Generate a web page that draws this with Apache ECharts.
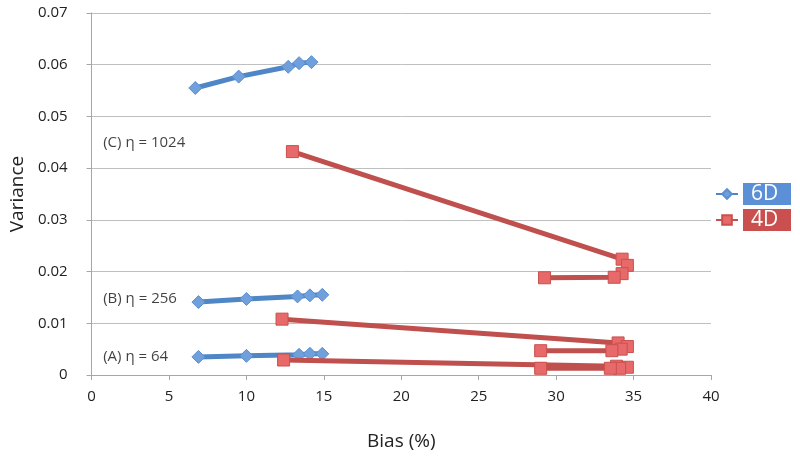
<!DOCTYPE html>
<html>
<head>
<meta charset="utf-8">
<script src="https://cdn.jsdelivr.net/npm/echarts@6/dist/echarts.min.js"></script>
<style>html,body{margin:0;padding:0;background:#fff}#c{width:800px;height:462px}</style>
</head>
<body>
<div id="c"></div>
<script>
// 6D series (blue), three groups
var blueC_x = [6.7, 9.5, 12.7, 13.4, 14.2];
var blueC_y = [0.0555, 0.0577, 0.0596, 0.0603, 0.0605];
var blueB_x = [6.9, 10.0, 13.3, 14.1, 14.9];
var blueB_y = [0.0141, 0.0147, 0.0152, 0.0154, 0.0155];
var blueA_x = [6.9, 10.0, 13.4, 14.1, 14.9];
var blueA_y = [0.0035, 0.0037, 0.0039, 0.0041, 0.0041];
// 4D series (red), three groups
var redC_x = [12.97, 34.26, 34.6, 34.26, 33.75, 29.25];
var redC_y = [0.0432, 0.0224, 0.0212, 0.0196, 0.0189, 0.0188];
var redB_x = [12.3, 34.0, 34.6, 34.2, 33.6, 29.0];
var redB_y = [0.0108, 0.0062, 0.0055, 0.0050, 0.0047, 0.0047];
var redA_x = [12.4, 33.9, 34.6, 34.1, 33.5, 29.0];
var redA_y = [0.0029, 0.0017, 0.0015, 0.0013, 0.0013, 0.0013];
// annotations
var annoText = ['(C) η = 1024', '(B) η = 256', '(A) η = 64'];
var annoX = [0.75, 0.75, 0.75];
var annoY = [0.0449, 0.0147, 0.0035];
var xTicks = [0, 5, 10, 15, 20, 25, 30, 35, 40];
var yTicks = [0, 0.01, 0.02, 0.03, 0.04, 0.05, 0.06, 0.07];

function pairs(xs, ys){ return xs.map(function(x,i){ return [x, ys[i]]; }); }

var BLUE_LINE = '#4f86c6', BLUE_MK = '#6fa0dc';
var RED_LINE = '#c0504d', RED_MK = '#e8696a';
var FONT = 'Open Sans';

function blueSeries(xs, ys){
  return { name:'6D', type:'line', data:pairs(xs,ys), symbol:'diamond', symbolSize:13,
    lineStyle:{color:BLUE_LINE, width:5}, itemStyle:{color:BLUE_MK, borderColor:'#5a8fd0', borderWidth:1},
    emphasis:{disabled:true}, z:3 };
}
function redSeries(xs, ys){
  return { name:'4D', type:'line', data:pairs(xs,ys), symbol:'rect', symbolSize:12,
    lineStyle:{color:RED_LINE, width:5}, itemStyle:{color:RED_MK, borderColor:'#c9504e', borderWidth:1},
    emphasis:{disabled:true}, z:4 };
}

var chart = echarts.init(document.getElementById('c'), null, {renderer:'canvas'});
chart.setOption({
  animation:false,
  backgroundColor:'#fff',
  grid:{left:88, right:89, top:13, bottom:87},
  legend:{
    orient:'vertical', left:715, top:183, padding:0, itemWidth:22, itemHeight:12, itemGap:4,
    data:[
      {name:'6D', textStyle:{color:'#fff', backgroundColor:'#5b8fd6', fontSize:21, fontFamily:FONT, padding:[0,9,0,8], width:31, height:22, lineHeight:22}},
      {name:'4D', textStyle:{color:'#fff', backgroundColor:'#c9504e', fontSize:21, fontFamily:FONT, padding:[0,9,0,8], width:31, height:22, lineHeight:22}}
    ],
    textStyle:{fontFamily:FONT}
  },
  xAxis:{
    type:'value', min:0, max:40, interval:5,
    name:'Bias (%)', nameLocation:'middle', nameGap:57,
    nameTextStyle:{fontSize:19, color:'#222', fontFamily:FONT},
    axisLine:{lineStyle:{color:'#a6a6a6'}},
    axisTick:{show:true, length:5, lineStyle:{color:'#a6a6a6'}},
    axisLabel:{fontSize:15, color:'#222', fontFamily:FONT, margin:14,
      formatter:function(v){ return xTicks.indexOf(v) >= 0 ? String(v) : ''; }},
    splitLine:{show:false}
  },
  yAxis:{
    type:'value', min:0, max:0.07, interval:0.01,
    name:'Variance', nameLocation:'middle', nameGap:64, nameRotate:90,
    nameTextStyle:{fontSize:19, color:'#222', fontFamily:FONT},
    axisLine:{show:true, lineStyle:{color:'#a6a6a6'}},
    axisTick:{show:true, length:5, lineStyle:{color:'#a6a6a6'}},
    axisLabel:{fontSize:15, color:'#222', fontFamily:FONT, margin:24,
      formatter:function(v){ var t = yTicks.find(function(k){ return Math.abs(k-v)<1e-9; }); return t===undefined ? '' : (t===0 ? '0' : t.toFixed(2)); }},
    splitLine:{show:true, lineStyle:{color:'#bfbfbf', width:1}}
  },
  series:[
    blueSeries(blueC_x, blueC_y), blueSeries(blueB_x, blueB_y), blueSeries(blueA_x, blueA_y),
    redSeries(redC_x, redC_y), redSeries(redB_x, redB_y), redSeries(redA_x, redA_y),
    { name:'anno', type:'scatter', symbolSize:0, silent:true, z:5,
      data:annoText.map(function(t,i){ return {value:[annoX[i], annoY[i]], name:t}; }),
      label:{show:true, position:'right', distance:0, formatter:function(p){ return p.name; },
        fontSize:15, color:'#111', fontFamily:FONT} }
  ]
});
</script>
</body>
</html>
